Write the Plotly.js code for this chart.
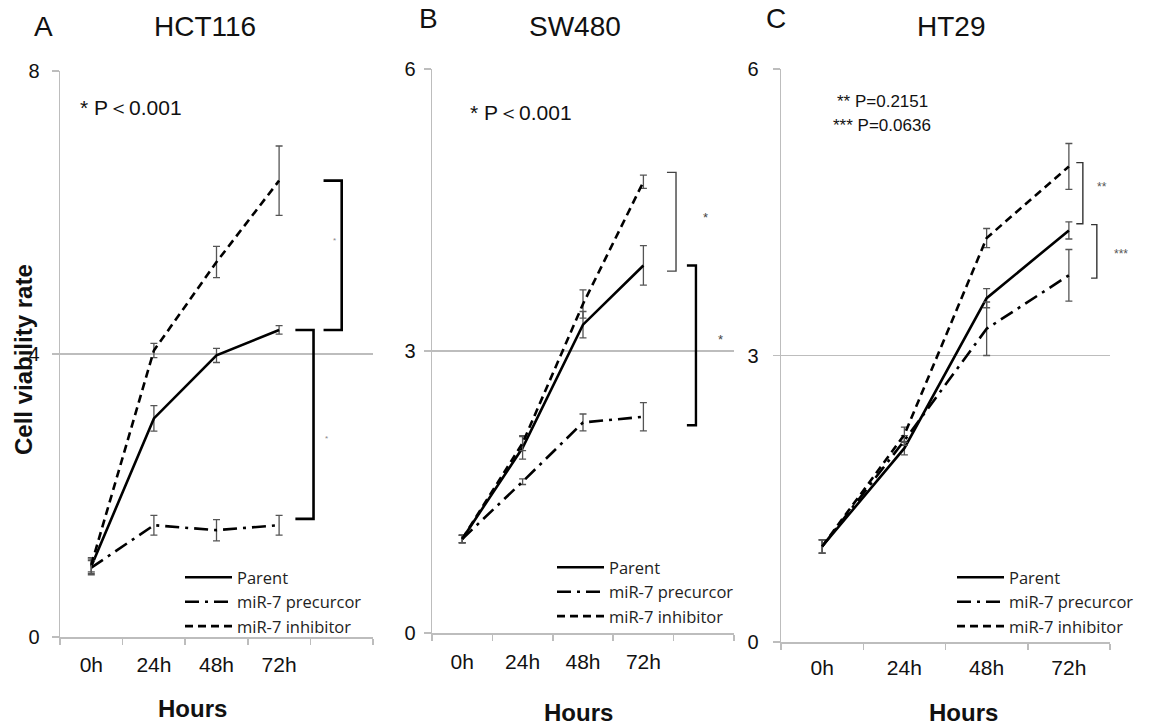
<!DOCTYPE html>
<html>
<head>
<meta charset="utf-8">
<script src="https://cdn.plot.ly/plotly-3.0.1.min.js"></script>
<style>html,body{margin:0;padding:0;background:#fff;}#chart{width:1154px;height:726px;}</style>
</head>
<body>
<div id="chart"></div>
<script>
// ---------- data ----------
const hours = ["0h", "24h", "48h", "72h"];
const seriesNames = ["Parent", "miR-7 precurcor", "miR-7 inhibitor"];

// A: HCT116
const hctParent = [1.00, 3.09, 3.98, 4.34];
const hctParentErr = [0.10, 0.18, 0.10, 0.06];
const hctPrecursor = [0.98, 1.58, 1.51, 1.58];
const hctPrecursorErr = [0.10, 0.14, 0.15, 0.14];
const hctInhibitor = [1.02, 4.05, 5.30, 6.45];
const hctInhibitorErr = [0.10, 0.10, 0.22, 0.49];

// B: SW480
const swParent = [1.00, 1.97, 3.28, 3.91];
const swParentErr = [0.04, 0.12, 0.14, 0.21];
const swPrecursor = [1.00, 1.61, 2.24, 2.30];
const swPrecursorErr = [0.04, 0.03, 0.09, 0.15];
const swInhibitor = [1.00, 2.02, 3.50, 4.80];
const swInhibitorErr = [0.04, 0.08, 0.15, 0.07];

// C: HT29
const htParent = [1.00, 2.03, 3.60, 4.31];
const htParentErr = [0.07, 0.07, 0.10, 0.09];
const htPrecursor = [1.00, 2.11, 3.28, 3.84];
const htPrecursorErr = [0.07, 0.05, 0.28, 0.27];
const htInhibitor = [1.00, 2.17, 4.23, 4.98];
const htInhibitorErr = [0.07, 0.08, 0.10, 0.24];

// ---------- helpers ----------
const W = 1154, H = 726;
const px = x => x / W;
const py = y => 1 - y / H;
const ARIAL = "Liberation Sans, Arial, sans-serif";
const LEG = "Open Sans, Lato, sans-serif";
const GRID = "#bdbdbd";
const xIdx = hours.map((_, i) => i);

const styles = [
  {dash: "solid", width: 2.6},
  {dash: "14px,6px,3px,6px", width: 2.6},
  {dash: "8px,5px", width: 2.6}
];

function makeTraces(n, vals, errs, legendId) {
  const ax = n === 1 ? "" : String(n);
  return vals.map((v, k) => ({
    type: "scatter", mode: "lines",
    x: xIdx, y: v,
    name: seriesNames[k],
    xaxis: "x" + ax, yaxis: "y" + ax,
    legend: legendId,
    line: {color: "#000", width: styles[k].width, dash: styles[k].dash},
    error_y: {type: "data", array: errs[k], visible: true, color: "#555", thickness: 1.3, width: 3.5},
    hoverinfo: "x+y+name"
  }));
}

const traces = [].concat(
  makeTraces(1, [hctParent, hctPrecursor, hctInhibitor], [hctParentErr, hctPrecursorErr, hctInhibitorErr], "legend"),
  makeTraces(2, [swParent, swPrecursor, swInhibitor], [swParentErr, swPrecursorErr, swInhibitorErr], "legend2"),
  makeTraces(3, [htParent, htPrecursor, htInhibitor], [htParentErr, htPrecursorErr, htInhibitorErr], "legend3")
);

function xAxis(domain, nCat, anchor, standoff) {
  const bounds = [];
  for (let i = 0; i <= nCat; i++) bounds.push(i - 0.5);
  return {
    domain: domain, anchor: anchor, range: [-0.5, nCat - 0.5],
    tickmode: "array", tickvals: xIdx, ticktext: hours,
    ticks: "", showgrid: false, zeroline: false,
    showline: true, linecolor: GRID, linewidth: 1.5,
    tickfont: {family: ARIAL, size: 21, color: "#111"},
    ticklabelstandoff: standoff,
    minor: {tickmode: "array", tickvals: bounds, ticks: "outside", ticklen: 6, tickcolor: GRID, tickwidth: 1.5, showgrid: false},
    fixedrange: true
  };
}
function yAxis(domain, max, anchor, standoff) {
  return {
    domain: domain, anchor: anchor, range: [0, max],
    tickmode: "array", tickvals: [0, max / 2, max],
    ticks: "outside", ticklen: 7, tickcolor: GRID, tickwidth: 1.5,
    showgrid: true, gridcolor: GRID, gridwidth: 1.5, zeroline: false,
    showline: true, linecolor: GRID, linewidth: 1.5,
    tickfont: {family: ARIAL, size: 20, color: "#111"},
    ticklabelstandoff: standoff,
    fixedrange: true
  };
}

// bracket "]" drawn as a path between two series values at the last time point
function bracket(n, x0, x1, yTop, yBot, color, width) {
  const ax = n === 1 ? "" : String(n);
  return {
    type: "path", xref: "x" + ax, yref: "y" + ax,
    path: `M${x0},${yTop} L${x1},${yTop} L${x1},${yBot} L${x0},${yBot}`,
    line: {color: color, width: width}
  };
}
const last = arr => arr[arr.length - 1];

const shapes = [
  bracket(1, 3.71, 4.00, last(hctInhibitor), last(hctParent), "#000", 2.6),
  bracket(1, 3.26, 3.55, last(hctParent), last(hctPrecursor) + 0.09, "#000", 2.6),
  bracket(2, 3.39, 3.54, last(swInhibitor) + 0.1, last(swParent) - 0.06, "#444", 1.4),
  bracket(2, 3.72, 3.87, last(swParent), last(swPrecursor) - 0.09, "#000", 2.4),
  bracket(3, 3.09, 3.17, last(htInhibitor) + 0.04, last(htParent) + 0.07, "#333", 1.4),
  bracket(3, 3.27, 3.34, last(htParent) + 0.06, last(htPrecursor) - 0.03, "#333", 1.4)
];

function note(text, x, y, size, opts) {
  return Object.assign({
    text: text, xref: "paper", yref: "paper", x: px(x), y: py(y),
    showarrow: false, xanchor: "center", yanchor: "middle",
    font: {family: ARIAL, size: size, color: "#111"}
  }, opts || {});
}
function star(text, x, y, size, color) {
  return note(text, x, y, size, {font: {family: ARIAL, size: size, color: color}});
}

const annotations = [
  note("A", 43, 27, 28), note("HCT116", 205, 27, 28),
  note("B", 428, 19, 28), note("SW480", 575, 27, 28),
  note("C", 776, 19, 28), note("HT29", 951, 27, 28),
  note("* P\uFF1C0.001", 78, 107, 21, {xanchor: "left"}),
  note("* P\uFF1C0.001", 468, 112, 21, {xanchor: "left"}),
  note("** P=0.2151", 930, 102, 17, {xanchor: "right"}),
  note("*** P=0.0636", 933, 125, 17, {xanchor: "right"}),
  note("<b>Cell viability rate</b>", 23, 360, 24, {textangle: -90}),
  note("<b>Hours</b>", 192, 708, 24),
  note("<b>Hours</b>", 578, 712, 24),
  note("<b>Hours</b>", 963, 712, 24),
  star("*", 334, 240, 8, "#888"),
  star("*", 326, 438, 8, "#888"),
  star("*", 706, 217, 13, "#444"),
  star("*", 720, 339, 13, "#444"),
  star("**", 1102, 187, 12, "#555"),
  star("***", 1121, 254, 12, "#555")
];

function legendAt(x, y) {
  return {x: px(x), y: py(y), xanchor: "left", yanchor: "top",
          bgcolor: "rgba(0,0,0,0)", borderwidth: 0, itemwidth: 47,
          font: {family: LEG, size: 16.5, color: "#222"}, tracegroupgap: 0,
          itemclick: false, itemdoubleclick: false};
}

const layout = {
  width: W, height: H,
  margin: {l: 0, r: 0, t: 0, b: 0},
  paper_bgcolor: "#fff", plot_bgcolor: "#fff",
  showlegend: true,
  xaxis: xAxis([px(60), px(373)], 5, "y", 8),
  yaxis: yAxis([py(637), py(71)], 8, "x", 8),
  xaxis2: xAxis([px(432), px(734)], 5, "y2", 9),
  yaxis2: yAxis([py(633), py(69)], 6, "x2", 4),
  xaxis3: xAxis([px(781), px(1110)], 4, "y3", 6),
  yaxis3: yAxis([py(642), py(69)], 6, "x3", 10),
  legend: legendAt(180, 560),
  legend2: legendAt(552, 550),
  legend3: legendAt(952, 560),
  shapes: shapes,
  annotations: annotations
};

Plotly.newPlot("chart", traces, layout, {displayModeBar: false, staticPlot: true});
</script>
</body>
</html>
